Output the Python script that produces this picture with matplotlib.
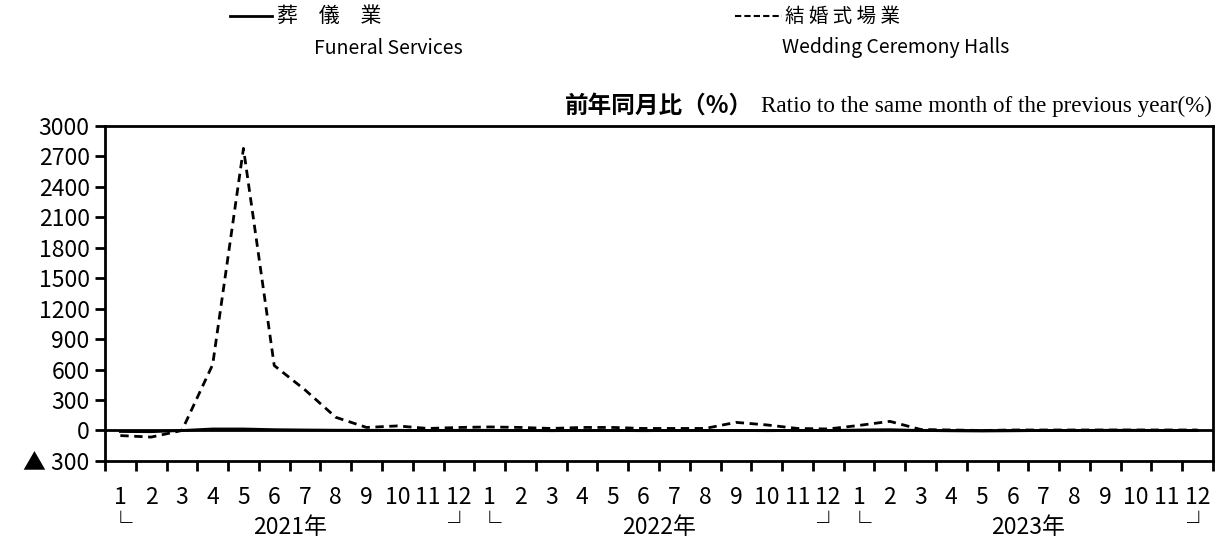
import matplotlib
matplotlib.use("Agg")
import matplotlib.pyplot as plt
import matplotlib.transforms as mtransforms

plt.rcParams['font.family'] = ['Noto Sans CJK JP', 'DejaVu Sans']

# monthly data, Jan 2021 - Dec 2023
months = [str(m) for m in range(1, 13)] * 3
years = ["2021年", "2022年", "2023年"]

funeral = [-10, -12, 0, 15, 15, 8, 5, 3, 2, 2, 0, 2,
           2, 0, -2, 0, 0, -2, 0, 0, 0, -2, 0, 0,
           5, 8, 0, -3, -5, -3, 0, 0, 2, 2, 0, 0]
wedding = [-50, -65, 0, 650, 2780, 640, 400, 130, 30, 45, 20, 30,
           35, 30, 20, 30, 30, 20, 20, 20, 80, 55, 20, 15,
           50, 90, 10, 5, 0, 5, 5, 5, 5, 5, 5, 5]

yticks = list(range(-300, 3001, 300))
ylabels = ["▲ 300" if v < 0 else str(v) for v in yticks]

fig = plt.figure(figsize=(12.22, 5.41), dpi=100)
ax = fig.add_axes([0.0859, 0.148, 0.9067, 0.619])

x = list(range(1, len(months) + 1))
ax.plot(x, funeral, color='black', lw=2)
ax.plot(x, wedding, color='black', lw=2, linestyle=(0, (3, 2)))
ax.axhline(0, color='black', lw=2)

ax.set_xlim(0.5, len(months) + 0.5)
ax.set_ylim(-300, 3000)
ax.set_yticks(yticks)
ax.set_yticklabels(ylabels, fontsize=16.5)
ax.tick_params(axis='y', direction='out', length=7, width=2, pad=4)

ax.set_xticks([i + 0.5 for i in range(0, len(months) + 1)])
ax.set_xticklabels([])
ax.set_xticks(x, minor=True)
ax.set_xticklabels(months, minor=True, fontsize=16.5)
ax.tick_params(axis='x', which='major', direction='out', length=7, width=2)
ax.tick_params(axis='x', which='minor', length=0, pad=18)

for s in ax.spines.values():
    s.set_linewidth(2)

trans = mtransforms.blended_transform_factory(ax.transData, ax.transAxes)
for i, yr in enumerate(years):
    start = i * 12 + 1
    ax.text(start, -0.19, "└", transform=trans, ha='center', va='center', fontsize=17)
    ax.text(start + 11, -0.19, "┘", transform=trans, ha='center', va='center', fontsize=17)
    ax.text(start + 5.5, -0.2, yr, transform=trans, ha='center', va='center', fontsize=16.5)

# legend drawn above the plot
fig.lines.append(plt.Line2D([230 / 1222, 272 / 1222], [1 - 16 / 541] * 2,
                            transform=fig.transFigure, color='black', lw=2))
fig.text(277 / 1222, 1 - 16 / 541, "葬　儀　業", ha='left', va='center', fontsize=15)
fig.text(388 / 1222, 1 - 48 / 541, "Funeral Services", ha='center', va='center', fontsize=14)
fig.lines.append(plt.Line2D([735 / 1222, 782 / 1222], [1 - 16 / 541] * 2,
                            transform=fig.transFigure, color='black', lw=1.5,
                            linestyle=(0, (3, 1.5))))
fig.text(785 / 1222, 1 - 16 / 541, "結 婚 式 場 業", ha='left', va='center', fontsize=14)
fig.text(896 / 1222, 1 - 48 / 541, "Wedding Ceremony Halls", ha='center', va='center', fontsize=14)

fig.text(1212 / 1222, 1 - 106 / 541, "Ratio to the same month of the previous year(%)",
         ha='right', va='center', fontsize=16.7, family='Liberation Serif')
fig.text(753 / 1222, 1 - 106 / 541, "前年同月比（%）", ha='right', va='center',
         fontsize=17, fontweight='bold')

fig.savefig("out.png", dpi=100)
